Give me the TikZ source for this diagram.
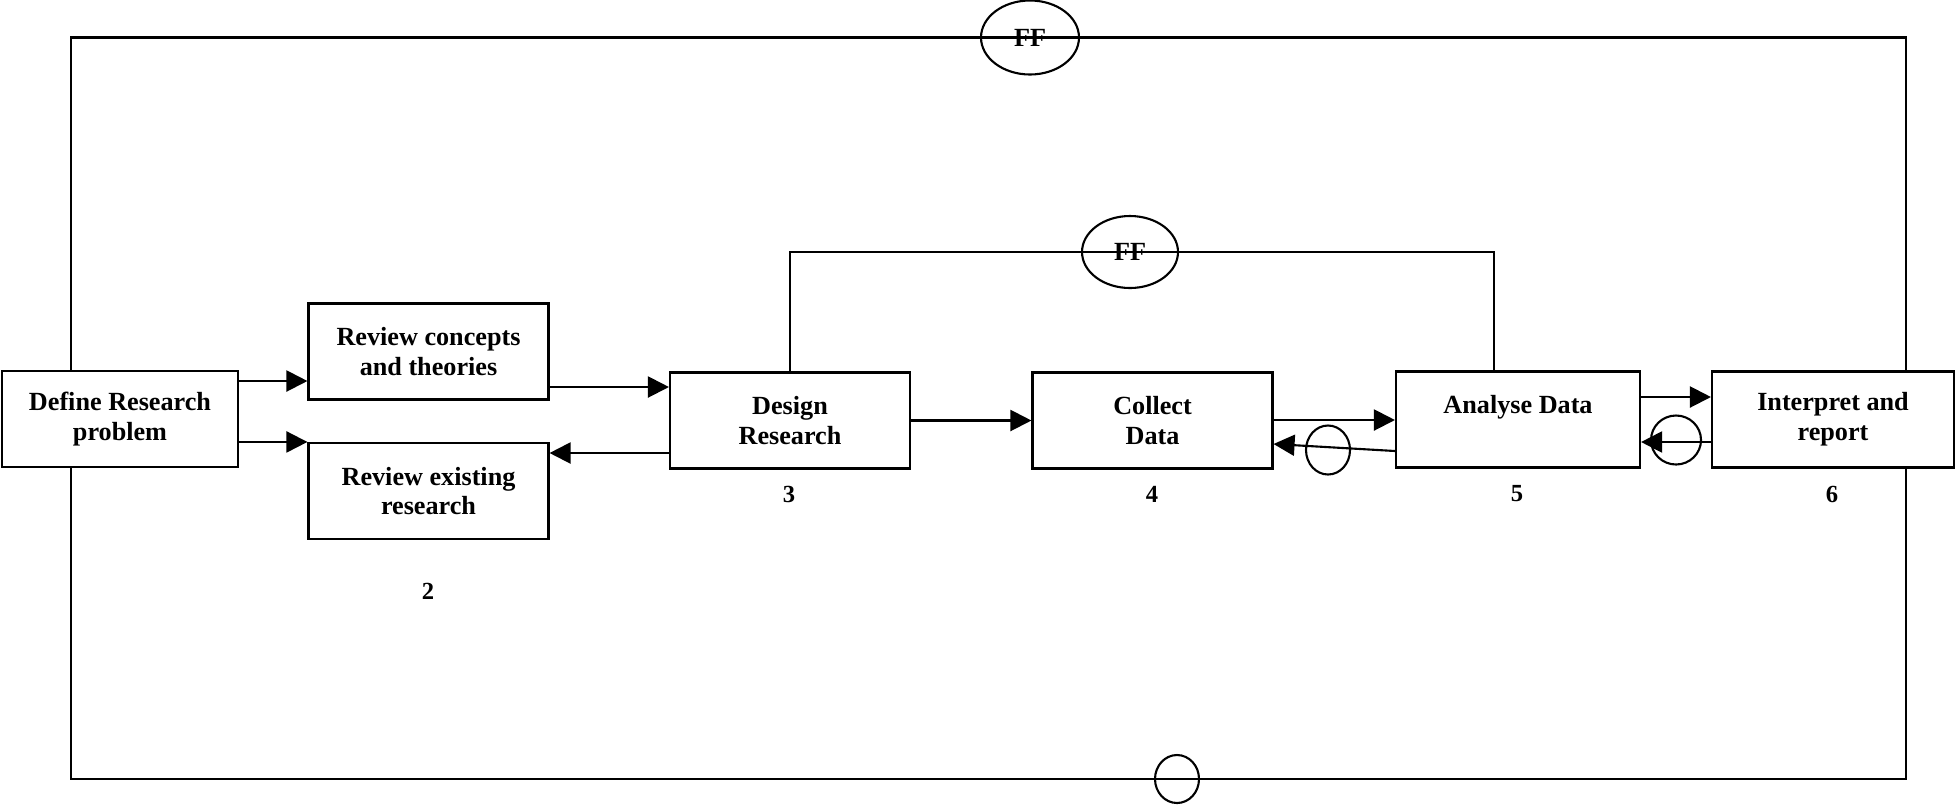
\documentclass[tikz,border=0pt]{standalone}
\usepackage{fontspec}
\setmainfont{Liberation Serif}
\usetikzlibrary{arrows.meta,positioning,shapes.geometric}

\begin{document}
\begin{tikzpicture}[>={Triangle[length=2.1mm,width=2.1mm]}, line width=0.6pt,
  box/.style={draw, minimum width=2.4cm, minimum height=0.96cm, inner sep=0pt,
    align=center, font=\fontsize{7.45}{8.5}\selectfont\bfseries},
  num/.style={font=\fontsize{7}{8}\selectfont\bfseries},
  ff/.style={draw, ellipse, inner sep=0pt, minimum width=0.98cm, minimum height=0.74cm,
    font=\fontsize{7.45}{8.5}\selectfont\bfseries},
  ring/.style={draw, ellipse, inner sep=0pt, minimum width=0.44cm, minimum height=0.49cm}]
  \useasboundingbox (0,0) rectangle (19.55,8.04);
  % stages
  \node[box,minimum width=2.36cm] (define) at (1.20,3.85) {Define Research\\problem};
  \node[box] (concepts) at (4.285,4.525) {Review concepts\\and theories};
  \node[box] (existing) at (4.285,3.13) {Review existing\\research};
  \node[box] (design) at (7.90,3.835) {Design\\Research};
  \node[box] (collect) at (11.525,3.835) {Collect\\Data};
  \node[box,minimum width=2.44cm] (analyse) at (15.18,3.845) {Analyse Data\\\mbox{}};
  \node[box,minimum width=2.42cm] (interp) at (18.33,3.845) {Interpret and\\report};
  % stage numbers
  \node[num] (n2) at (4.28,2.13) {2};
  \node[num] (n3) at (7.89,3.10) {3};
  \node[num] (n4) at (11.52,3.10) {4};
  \node[num] (n5) at (15.17,3.10) {5};
  \node[num] (n6) at (18.32,3.10) {6};
  % feedback marks
  \node[ff] (ffTop) at (10.30,7.665) {FF};
  \node[ff,minimum width=0.96cm,minimum height=0.72cm] (ffIn) at (11.30,5.52) {FF};
  \node[ring] (ring54) at (13.28,3.54) {};
  \node[ring,minimum width=0.50cm] (ring65) at (16.76,3.64) {};
  \node[ring,minimum height=0.48cm] (ringBot) at (11.77,0.25) {};
  % forward flow
  \draw[->] (define.east |- 0,4.23) -- (concepts.west |- 0,4.23);
  \draw[->] (define.east |- existing.north west) -- (existing.north west);
  \draw[->] (concepts.east |- 0,4.17) -- (design.west |- 0,4.17);
  \draw[->] (design.west |- 0,3.51) -- (existing.east |- 0,3.51);
  \draw[->] (design.east) -- (collect.west);
  \draw[->] (collect.east |- 0,3.84) -- (analyse.west |- 0,3.84);
  \draw[->] (analyse.east |- 0,4.07) -- (interp.west |- 0,4.07);
  % feedback flow
  \draw[->] (analyse.west |- 0,3.53) -- (collect.east |- 0,3.60);
  \draw[->] (interp.west |- 0,3.62) -- (analyse.east |- 0,3.62);
  \draw (design.north) |- (ffIn.center) -| (analyse.north -| 14.94,0);
  % outer loop
  \draw (define.north -| 0.71,0) |- (ffTop.center) -| (interp.north -| 19.06,0);
  \draw (define.south -| 0.71,0) |- (ringBot.center) -| (interp.south -| 19.06,0);
\end{tikzpicture}
\end{document}
